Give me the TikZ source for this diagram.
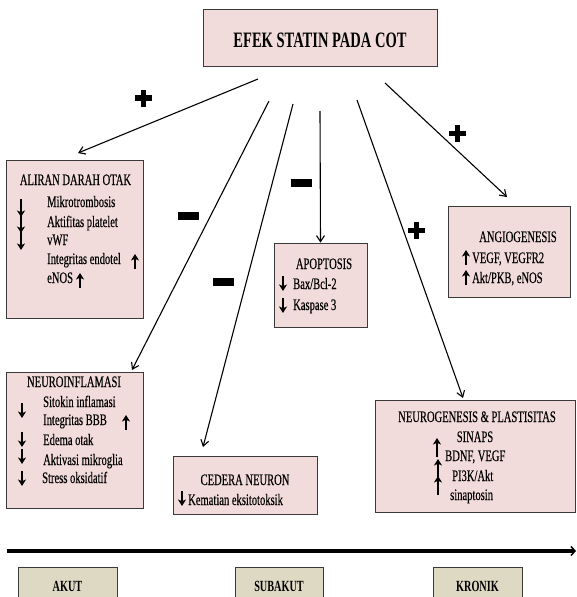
\documentclass[tikz,border=0pt]{standalone}
\usepackage{fontspec}
\setmainfont{Liberation Serif}[FakeStretch=0.66,UprightFeatures={FakeBold=0.3}]
\usetikzlibrary{arrows.meta}
\definecolor{boxpink}{HTML}{F2DCDB}
\definecolor{boxtan}{HTML}{DDD9C3}
\definecolor{edge}{HTML}{3A3A3A}
\begin{document}
\begin{tikzpicture}[x=1pt,y=-1pt,
  box/.style={draw=edge,line width=0.9pt,fill=boxpink,rectangle,inner sep=0,minimum width=#1},
  tanbox/.style={draw=edge,line width=0.9pt,fill=boxtan,rectangle,inner sep=0,minimum height=40pt,minimum width=#1},
  txt/.style={inner sep=0,anchor=base west,font=\fontsize{16}{19}\selectfont},
  ctxt/.style={inner sep=0,anchor=base,font=\fontsize{16}{19}\selectfont},
  btxt/.style={inner sep=0,anchor=base,font=\fontsize{15.5}{18}\selectfont\bfseries},
  conn/.style={line width=1.1pt,-{Straight Barb[length=6pt,width=8pt]}},
  ud/.style={line width=2pt,-{Stealth[length=6.5pt,width=8pt,inset=1.8pt]}},
  minus/.style={fill=black,rectangle,inner sep=0,minimum width=21pt,minimum height=8pt},
  plus/.pic={\fill (-8.5,-2.8) rectangle (8.5,2.8); \fill (-2.8,-8.5) rectangle (2.8,8.5);}
]
\useasboundingbox (0,0) rectangle (577,597);
\fill[white] (0,0) rectangle (577,597);

% boxes
\node[box=234pt,minimum height=57pt] (top) at (320,37.5) {};
\node[btxt,font=\fontsize{22}{26}\selectfont\bfseries] (toptxt) at (320,47) {EFEK STATIN PADA COT};

\node[box=137pt,minimum height=158pt] (aliran) at (74.5,239) {};
\node[box=93pt,minimum height=84pt] (apop) at (320.5,285) {};
\node[box=122pt,minimum height=91pt] (angio) at (509,251.5) {};
\node[box=137pt,minimum height=136pt] (ninf) at (74.5,440) {};
\node[box=144pt,minimum height=58pt] (ceder) at (245,485) {};
\node[box=200pt,minimum height=112pt] (ngen) at (475,456) {};

% connectors
\coordinate (s1) at (258,79);  \coordinate (e1) at (78,153);
\coordinate (s2) at (269,101); \coordinate (e2) at (132,370);
\coordinate (s3) at (293,104); \coordinate (e3) at (203,447);
\coordinate (s4) at (320,111);
\coordinate (s5) at (357,100); \coordinate (e5) at (463,398);
\coordinate (s6) at (385,83);  \coordinate (e6) at (507,197);
\draw[conn] (s1) -- (e1);
\draw[conn] (s2) -- (e2);
\draw[conn] (s3) -- (e3);
\draw[conn] (s4) -- (apop.north);
\draw[conn] (s5) -- (e5);
\draw[conn] (s6) -- (e6);

% signs
\pic at (143.5,98) {plus};
\node[minus] (m1) at (188,216) {};
\node[minus] (m2) at (223.5,281.5) {};
\node[minus] (m3) at (301.5,182.5) {};
\pic at (457.5,133.5) {plus};
\pic at (416.5,230.5) {plus};

% ALIRAN DARAH OTAK
\node[ctxt] (a0) at (75.5,185) {ALIRAN DARAH OTAK};
\node[txt] (a1) at (47,207) {Mikrotrombosis};
\node[txt] (a2) at (47,227) {Aktifitas platelet};
\node[txt] (a3) at (47,245) {vWF};
\node[txt] (a4) at (47,264) {Integritas endotel};
\node[txt] (a5) at (47,283) {eNOS};
\draw[ud] (21,199) -- (21,217);
\draw[ud] (21,214) -- (21,233);
\draw[ud] (21,231) -- (21,250);
\draw[ud] (135,269) -- (135,254);
\draw[ud] (80,288) -- (80,273);

% APOPTOSIS
\node[ctxt] (p0) at (324,269) {APOPTOSIS};
\node[txt] (p1) at (293,289) {Bax/Bcl-2};
\node[txt] (p2) at (293,310) {Kaspase 3};
\draw[ud] (283,276) -- (283,291);
\draw[ud] (283,298) -- (283,313);

% ANGIOGENESIS
\node[ctxt] (g0) at (518,242) {ANGIOGENESIS};
\node[txt] (g1) at (472,263) {VEGF, VEGFR2};
\node[txt] (g2) at (472,283) {Akt/PKB, eNOS};
\draw[ud] (466,265) -- (466,250);
\draw[ud] (466,285) -- (466,270);

% NEUROINFLAMASI
\node[ctxt] (n0) at (74,387) {NEUROINFLAMASI};
\node[txt] (n1) at (43,407) {Sitokin inflamasi};
\node[txt] (n2) at (43,425) {Integritas BBB};
\node[txt] (n3) at (43,445) {Edema otak};
\node[txt] (n4) at (43,465) {Aktivasi mikroglia};
\node[txt] (n5) at (42,483) {Stress oksidatif};
\draw[ud] (22,403) -- (22,418);
\draw[ud] (22,432) -- (22,447);
\draw[ud] (22,449) -- (22,464);
\draw[ud] (22,471) -- (22,486);
\draw[ud] (126,430) -- (126,415);

% CEDERA NEURON
\node[ctxt] (c0) at (245,485) {CEDERA NEURON};
\node[txt] (c1) at (188,505) {Kematian eksitotoksik};
\draw[ud] (182,491) -- (182,506);

% NEUROGENESIS
\node[ctxt] (r0) at (477,422) {NEUROGENESIS \& PLASTISITAS};
\node[ctxt] (r1) at (475,442) {SINAPS};
\node[txt] (r2) at (445,461) {BDNF, VEGF};
\node[txt] (r3) at (452,481) {PI3K/Akt};
\node[txt] (r4) at (450,500) {sinaptosin};
\draw[ud] (437,457) -- (437,438);
\draw[ud] (438,477) -- (438,459);
\draw[ud] (438,495) -- (438,476);

% timeline
\coordinate (t0) at (7,551);
\coordinate (t1) at (576,551);
\draw[line width=3.2pt,-{Straight Barb[length=4pt,width=9pt,line width=1.5pt]}] (t0) -- (t1);

\node[tanbox=99pt] (akut) at (67.5,587) {};
\node[tanbox=88pt] (subakut) at (279,587) {};
\node[tanbox=89pt] (kronik) at (477.5,587) {};
\node[btxt] (k1) at (67.5,591) {AKUT};
\node[btxt] (k2) at (279,591) {SUBAKUT};
\node[btxt] (k3) at (477.5,591) {KRONIK};
\end{tikzpicture}
\end{document}
